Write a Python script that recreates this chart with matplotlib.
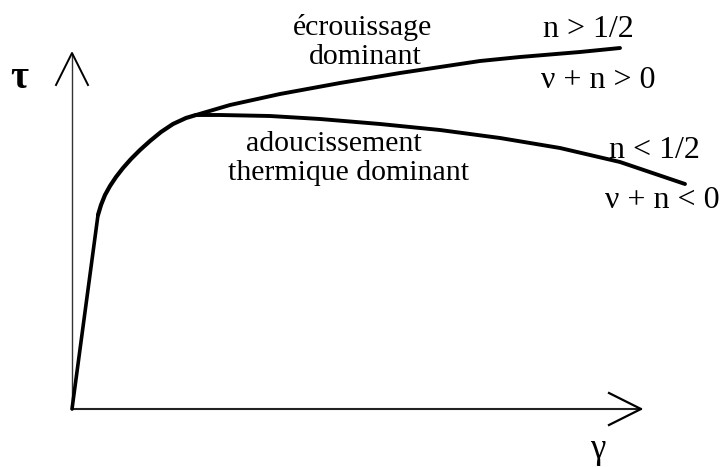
import matplotlib.pyplot as plt

# all coordinates are read in image pixels (722 x 467, y downward)
W, H = 722, 467

# elastic rise and knee of the curve
rise_x = [72, 98]
rise_y = [409, 215]
knee_x = [98, 101, 105, 110, 116, 123, 131, 140, 150, 161, 173, 186, 196]
knee_y = [215, 205, 195, 186, 177, 168, 159, 150, 141, 132, 124, 118, 115]

# hardening branch (upper) and thermal softening branch (lower)
upper_x = [196, 230, 280, 340, 400, 440, 480, 520, 580, 620]
upper_y = [115, 105, 94, 83, 73, 67, 61, 57, 52, 48]
lower_x = [196, 220, 270, 320, 380, 440, 500, 560, 620, 685]
lower_y = [115, 115, 116, 119, 124, 130, 138, 148, 162, 184]

# axes with open arrowheads
yaxis_x = [72, 72]
yaxis_y = [409, 54]
yhead_x = [56, 72, 88]
yhead_y = [85, 53, 85]
xaxis_x = [72, 641]
xaxis_y = [409, 409]
xhead_x = [609, 641, 609]
xhead_y = [393, 409, 425]

labels = [
    ("écrouissage", 363, 35, 21.5),
    ("dominant", 365, 64, 21.5),
    ("adoucissement", 334, 151, 21.5),
    ("thermique dominant", 349, 180, 21.5),
    ("n > 1/2", 588, 37, 23),
    ("ν + n > 0", 598, 88, 23),
    ("n < 1/2", 654, 158, 23),
    ("ν + n < 0", 662, 208, 23),
]

plt.rcParams["font.family"] = ["Liberation Serif", "DejaVu Serif"]

fig = plt.figure(figsize=(W / 100, H / 100), dpi=100)
ax = fig.add_axes([0, 0, 1, 1])
ax.set_xlim(0, W)
ax.set_ylim(H, 0)
ax.axis("off")

ax.plot(yaxis_x, yaxis_y, color="#333333", lw=1.0)
ax.plot(yhead_x, yhead_y, color="black", lw=1.4)
ax.plot(xaxis_x, xaxis_y, color="#222222", lw=1.5)
ax.plot(xhead_x, xhead_y, color="black", lw=1.6)

ax.plot(rise_x, rise_y, color="black", lw=2.6, solid_capstyle="round")
ax.plot(knee_x, knee_y, color="black", lw=3, solid_capstyle="round",
        solid_joinstyle="round")
ax.plot(upper_x, upper_y, color="black", lw=2.8, solid_capstyle="round",
        solid_joinstyle="round")
ax.plot(lower_x, lower_y, color="black", lw=2.8, solid_capstyle="round",
        solid_joinstyle="round")

for txt, x, y, fs in labels:
    ax.text(x, y, txt, ha="center", va="baseline", fontsize=fs)

ax.text(19, 78, "τ", ha="center", va="center", fontsize=28, fontweight="bold")
ax.text(598, 450, "γ", ha="center", va="center", fontsize=25)

fig.savefig("out.png", dpi=100)
